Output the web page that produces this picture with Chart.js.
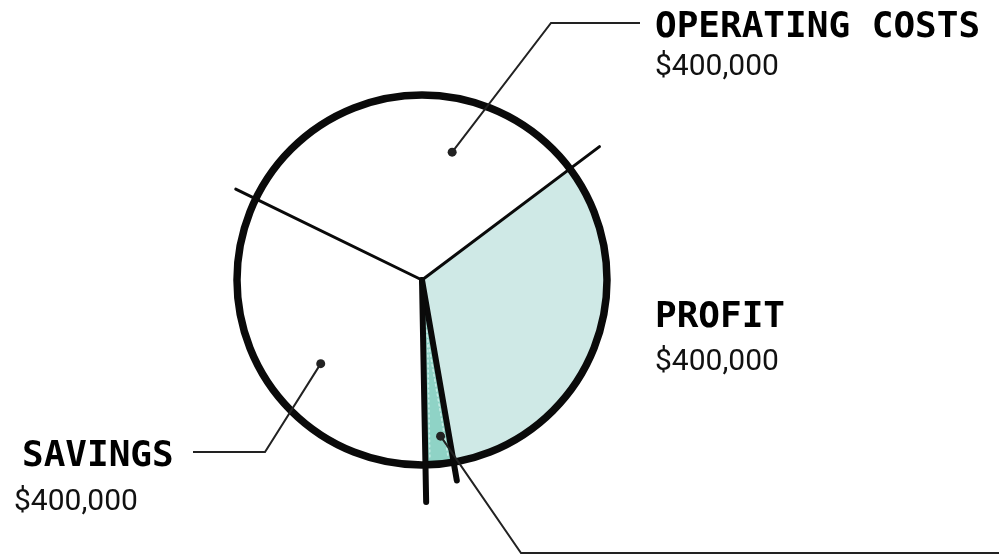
<!DOCTYPE html>
<html>
<head>
<meta charset="utf-8">
<script src="https://cdn.jsdelivr.net/npm/chart.js@4.4.1/dist/chart.umd.min.js"></script>
<style>
  html, body { margin: 0; padding: 0; background: #ffffff; }
</style>
</head>
<body>
<canvas id="ChartBudget" width="999" height="557"></canvas>
<script>
// Budget split
const labels = ["OPERATING COSTS", "PROFIT", "", "SAVINGS"];
const amounts = [400000, 400000, 30000, 400000];
const amountText = ["$400,000", "$400,000", "", "$400,000"];
const colors = ["#ffffff", "#cfe9e6", "#8fd3c6", "#ffffff"];

// label placement + leader line (dot inside slice -> elbow -> end)
const callouts = [
  { index: 0, frac: 0.66, rFrac: 0.71, elbow: [551, 23], end: [640, 23], text: [655, 37], value: [655, 75] },
  { index: 1, text: [655, 327], value: [655, 370] },
  { index: 2, frac: 0.35, rFrac: 0.85, elbow: [521, 553], end: [999, 553] },
  { index: 3, frac: 0.44, rFrac: 0.71, elbow: [265, 452], end: [193, 452], text: [22, 466], value: [14, 510] },
];

// radial lines: how far past the rim, and how thick
const spokes = [
  { index: 0, ext: 1.12, width: 3 },
  { index: 1, ext: 1.2, width: 3 },
  { index: 2, ext: 1.1, width: 6 },
  { index: 3, ext: 1.2, width: 6 },
];

const pt = (cx, cy, a, rr) => [cx + Math.cos(a) * rr, cy + Math.sin(a) * rr];

const sketchPlugin = {
  id: "sketch",
  afterDatasetsDraw(chart) {
    const ctx = chart.ctx;
    const arcs = chart.getDatasetMeta(0).data;
    const cx = arcs[0].x;
    const cy = arcs[0].y;
    const r = arcs[0].outerRadius;

    ctx.save();
    ctx.lineCap = "round";

    // speckled edge inside the thin slice
    const thin = arcs[2];
    ctx.strokeStyle = "#c6ebe4";
    ctx.lineWidth = 1.5;
    ctx.setLineDash([2, 3]);
    [[thin.startAngle, 1], [thin.endAngle, -1]].forEach(([a, side]) => {
      const nx = -Math.sin(a) * 4.5 * side;
      const ny = Math.cos(a) * 4.5 * side;
      const p1 = pt(cx, cy, a, 40);
      const p2 = pt(cx, cy, a, r - 6);
      ctx.beginPath();
      ctx.moveTo(p1[0] + nx, p1[1] + ny);
      ctx.lineTo(p2[0] + nx, p2[1] + ny);
      ctx.stroke();
    });
    ctx.setLineDash([]);

    // outer rim
    ctx.strokeStyle = "#0a0a0a";
    ctx.lineWidth = 7.5;
    ctx.beginPath();
    ctx.arc(cx, cy, r, 0, Math.PI * 2);
    ctx.stroke();

    // slice edges, running past the rim
    spokes.forEach((s) => {
      const a = arcs[s.index].startAngle;
      const p = pt(cx, cy, a, r * s.ext);
      ctx.lineWidth = s.width;
      ctx.beginPath();
      ctx.moveTo(cx, cy);
      ctx.lineTo(p[0], p[1]);
      ctx.stroke();
    });

    // leader lines
    ctx.strokeStyle = "#222222";
    ctx.fillStyle = "#222222";
    ctx.lineWidth = 2;
    ctx.lineCap = "butt";
    callouts.forEach((c) => {
      if (!c.elbow) return;
      const arc = arcs[c.index];
      const a = arc.startAngle + (arc.endAngle - arc.startAngle) * c.frac;
      const d = pt(cx, cy, a, r * c.rFrac);
      ctx.beginPath();
      ctx.moveTo(d[0], d[1]);
      ctx.lineTo(c.elbow[0], c.elbow[1]);
      ctx.lineTo(c.end[0], c.end[1]);
      ctx.stroke();
      ctx.beginPath();
      ctx.arc(d[0], d[1], 4.5, 0, Math.PI * 2);
      ctx.fill();
    });

    // labels
    ctx.textBaseline = "alphabetic";
    ctx.textAlign = "left";
    callouts.forEach((c) => {
      if (!c.text) return;
      ctx.fillStyle = "#000000";
      ctx.font = "bold 36px 'DejaVu Sans Mono'";
      ctx.fillText(labels[c.index], c.text[0], c.text[1]);
      ctx.fillStyle = "#111111";
      ctx.font = "30px Roboto";
      ctx.fillText(amountText[c.index], c.value[0], c.value[1]);
    });
    ctx.restore();
  },
};

const ChartBudget = document.getElementById("ChartBudget");

new Chart(ChartBudget, {
  type: "pie",
  data: {
    labels: labels,
    datasets: [
      {
        data: amounts,
        backgroundColor: colors,
        borderWidth: 0,
        hoverOffset: 0,
        offset: 0,
      },
    ],
  },
  options: {
    responsive: false,
    animation: false,
    events: [],
    rotation: -64,
    layout: {
      padding: { left: 237, right: 392, top: 95, bottom: 92 },
    },
    plugins: {
      legend: { display: false },
      tooltip: { enabled: false },
    },
  },
  plugins: [sketchPlugin],
});
</script>
</body>
</html>
